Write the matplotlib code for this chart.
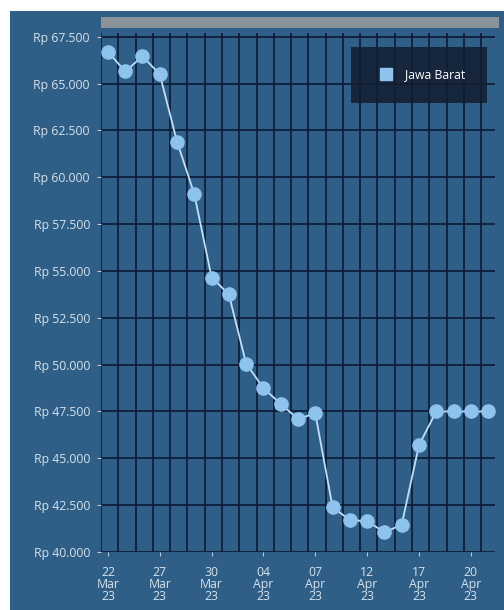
import matplotlib
matplotlib.use("Agg")
import matplotlib.pyplot as plt
from matplotlib.patches import Rectangle
from matplotlib.lines import Line2D

plt.rcParams["font.family"] = ["Open Sans", "DejaVu Sans"]

dates = ["22 Mar", "23 Mar", "24 Mar", "27 Mar", "28 Mar", "29 Mar", "30 Mar", "31 Mar",
         "03 Apr", "04 Apr", "05 Apr", "06 Apr", "07 Apr", "10 Apr", "11 Apr", "12 Apr",
         "13 Apr", "14 Apr", "17 Apr", "18 Apr", "19 Apr", "20 Apr", "21 Apr"]
prices = [66700, 65650, 66450, 65500, 61900, 59100, 54650, 53750, 50050, 48750, 47900,
          47100, 47400, 42400, 41700, 41650, 41050, 41450, 45700, 47500, 47500, 47500, 47500]
series_name = "Jawa Barat"
yticks = [40000, 42500, 45000, 47500, 50000, 52500, 55000, 57500, 60000, 62500, 65000, 67500]
label_every = 3

BG = "#2f5f87"
GRID = "#0c1a36"
POINT = "#8ec3ee"
TEXT = "#d6e2ec"

W, H = 504, 610
fig = plt.figure(figsize=(W / 100, H / 100), dpi=100, facecolor="white")

# chart background panel
fig.patches.append(Rectangle((10 / W, 0), 1 - 10 / W, 1 - 11 / H, transform=fig.transFigure,
                             facecolor=BG, edgecolor="none", zorder=-10))
# gray slider bar at top
fig.patches.append(Rectangle((101 / W, 1 - 28 / H), (499 - 101) / W, 11 / H,
                             transform=fig.transFigure, facecolor="#8b939a",
                             edgecolor="none", zorder=-9))

ax = fig.add_axes([101 / W, 1 - 552 / H, (495 - 101) / W, (552 - 33) / H])
ax.set_facecolor(BG)
for s in ax.spines.values():
    s.set_visible(False)

x = list(range(len(prices)))
ax.set_xlim(-0.4, len(prices) - 0.6)
ax.set_ylim(40000, 67700)

# grid
for yv in yticks:
    ax.axhline(yv, color=GRID, lw=1.2, zorder=1)
for i in x:
    ax.axvline(i - 0.4, color=GRID, lw=1.2, zorder=1)

ax.plot(x, prices, color="#bfe0fa", lw=1.3, marker="o", markersize=9.5,
        markerfacecolor=POINT, markeredgecolor=POINT, zorder=3)

ax.set_yticks(yticks)
ax.set_yticklabels([("Rp %s" % f"{v:,}").replace(",", ".") for v in yticks])
ticks_x = x[::label_every]
ax.set_xticks(ticks_x)
ax.set_xticklabels([dates[i].split()[0] + "\n" + dates[i].split()[1] + "\n23" for i in ticks_x],
                   linespacing=0.9)
ax.tick_params(axis="y", colors=TEXT, labelsize=8.8, length=3, width=0.6, pad=5)
ax.tick_params(axis="x", colors=TEXT, labelsize=8.8, length=3, width=0.6, pad=7)
for lab in ax.get_yticklabels() + ax.get_xticklabels():
    lab.set_color(TEXT)

# legend
handle = Line2D([], [], marker="s", linestyle="none", markersize=8,
                markerfacecolor=POINT, markeredgecolor=POINT)
leg = ax.legend([handle], [series_name], loc="upper right",
                bbox_to_anchor=(487 / W, 1 - 47 / H), bbox_transform=fig.transFigure,
                frameon=True, fontsize=8.8, labelcolor="white", borderpad=1.75,
                handlelength=2.2, handletextpad=0.5, fancybox=False, borderaxespad=0)
frame = leg.get_frame()
frame.set_facecolor("#111c30")
frame.set_alpha(0.85)
frame.set_edgecolor("none")
leg.set_zorder(5)

fig.savefig("out.png", dpi=100, facecolor="white")
